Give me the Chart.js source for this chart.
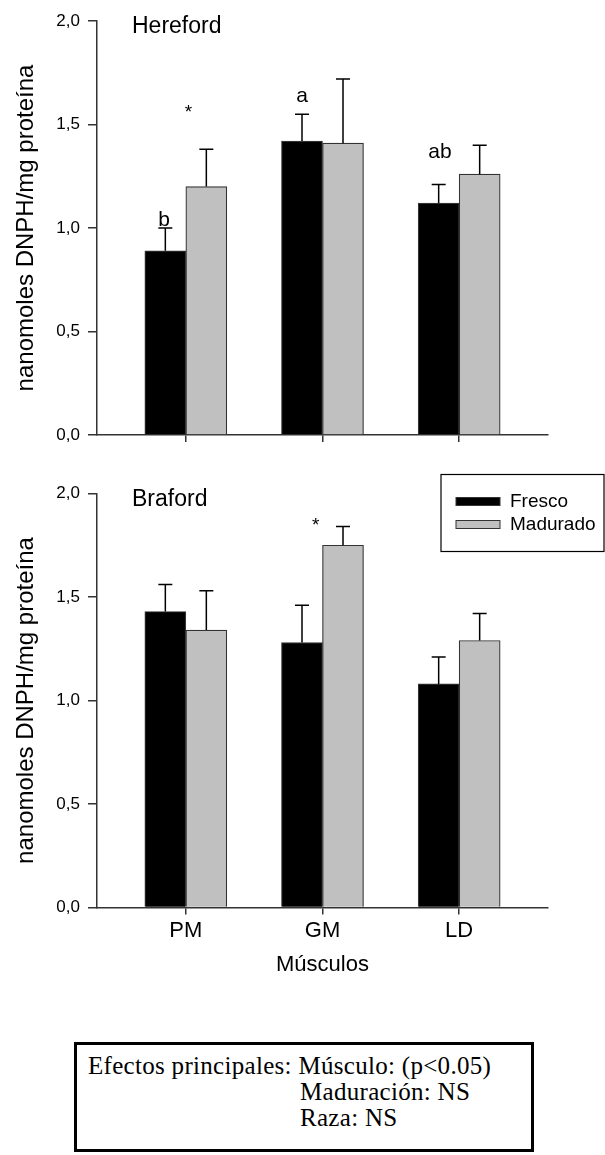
<!DOCTYPE html>
<html>
<head>
<meta charset="utf-8">
<script src="https://cdn.jsdelivr.net/npm/chart.js@4.4.0/dist/chart.umd.min.js"></script>
<style>
  body { margin: 0; background: #fff; width: 605px; height: 1155px; position: relative; overflow: hidden; font-family: "Liberation Sans", Arial, sans-serif; }
  #topWrap { position: absolute; left: 0; top: 0; width: 605px; height: 455px; }
  #bottomWrap { position: absolute; left: 0; top: 455px; width: 605px; height: 545px; }
  #effects {
    position: absolute; left: 74px; top: 1042px; width: 460px; height: 110px;
    border: 3px solid #000; box-sizing: border-box;
    font-family: "Liberation Serif", "Times New Roman", serif; font-size: 25px; letter-spacing: 0.3px;
    line-height: 26px; color: #000; padding: 8px 0 0 11px;
  }
  #effects .sub { padding-left: 212px; }
</style>
</head>
<body>
<div id="topWrap"><canvas id="herefordChart"></canvas></div>
<div id="bottomWrap"><canvas id="brafordChart"></canvas></div>
<div id="effects">
  <div>Efectos principales: Músculo: (p&lt;0.05)</div>
  <div class="sub">Maduración: NS</div>
  <div class="sub">Raza: NS</div>
</div>

<script>
// ------------------------------
// DATA
// ------------------------------
const muscles = ["PM", "GM", "LD"];
const seriesNames = ["Fresco", "Madurado"];
const yTicks = [0, 0.5, 1.0, 1.5, 2.0];

const herefordFresco = [0.89, 1.42, 1.12];
const herefordFrescoErr = [0.11, 0.13, 0.09];
const herefordMadurado = [1.20, 1.41, 1.26];
const herefordMaduradoErr = [0.18, 0.31, 0.14];

const brafordFresco = [1.43, 1.28, 1.08];
const brafordFrescoErr = [0.13, 0.18, 0.13];
const brafordMadurado = [1.34, 1.75, 1.29];
const brafordMaduradoErr = [0.19, 0.09, 0.13];

const barColors = ["#000000", "#c0c0c0"];
const axisColor = "#333333";
const sans = '"Liberation Sans", Arial, sans-serif';

// ------------------------------
// PLUGINS
// ------------------------------
// upward error bars with a cap
const errorBars = {
  id: "errorBars",
  afterDatasetsDraw(chart) {
    const { ctx } = chart;
    const yScale = chart.scales.y;
    chart.data.datasets.forEach((ds, di) => {
      const meta = chart.getDatasetMeta(di);
      meta.data.forEach((bar, i) => {
        const top = yScale.getPixelForValue(ds.data[i].y + ds.err[i]);
        ctx.save();
        ctx.strokeStyle = "#000";
        ctx.lineWidth = 1.5;
        ctx.beginPath();
        ctx.moveTo(bar.x, bar.y);
        ctx.lineTo(bar.x, top);
        ctx.moveTo(bar.x - 7, top);
        ctx.lineTo(bar.x + 7, top);
        ctx.stroke();
        ctx.restore();
      });
    });
  }
};

// significance letters and panel name
const panelText = {
  id: "panelText",
  afterDraw(chart, args, opts) {
    const { ctx, chartArea } = chart;
    const xs = chart.scales.x, ys = chart.scales.y;
    ctx.save();
    ctx.fillStyle = "#000";
    ctx.textBaseline = "middle";
    ctx.textAlign = "left";
    ctx.font = "23px " + sans;
    ctx.fillText(opts.name, chartArea.left + 35, chartArea.top + 6);

    ctx.textAlign = "center";
    ctx.textBaseline = "alphabetic";
    (opts.marks || []).forEach(m => {
      ctx.font = (m.text === "*" ? "19px " : "21px ") + sans;
      ctx.fillText(m.text, xs.getPixelForValue(m.x), ys.getPixelForValue(m.y));
    });
    ctx.restore();
  }
};

// boxed legend drawn inside the lower panel
const boxLegend = {
  id: "boxLegend",
  afterDraw(chart, args, opts) {
    if (!opts.show) return;
    const { ctx, chartArea } = chart;
    const left = chartArea.left + 344, top = chartArea.top - 19;
    ctx.save();
    ctx.strokeStyle = "#000";
    ctx.lineWidth = 1.2;
    ctx.strokeRect(left, top, 163, 77);
    ctx.font = "19px " + sans;
    ctx.textBaseline = "middle";
    ctx.textAlign = "left";
    chart.data.datasets.forEach((ds, i) => {
      const y = top + 27 + i * 23;
      ctx.fillStyle = ds.backgroundColor;
      ctx.fillRect(left + 15, y - 4, 44, 8);
      ctx.strokeStyle = "#333";
      ctx.lineWidth = 1;
      ctx.strokeRect(left + 15, y - 4, 44, 8);
      ctx.fillStyle = "#000";
      ctx.fillText(ds.label, left + 69, y);
    });
    ctx.restore();
  }
};

// ------------------------------
// BUILD ONE PANEL
// ------------------------------
function makeDataset(label, values, errs, color) {
  return {
    label: label,
    data: values.map((v, i) => ({ x: i, y: v })),
    err: errs,
    backgroundColor: color,
    borderColor: "#333",
    borderWidth: 1.2,
    barThickness: 41,
    grouped: true
  };
}

function makePanel(canvasId, name, fresco, frescoErr, madurado, maduradoErr, marks, isBottom) {
  return new Chart(document.getElementById(canvasId), {
    type: "bar",
    data: {
      datasets: [
        makeDataset(seriesNames[0], fresco, frescoErr, barColors[0]),
        makeDataset(seriesNames[1], madurado, maduradoErr, barColors[1])
      ]
    },
    options: {
      responsive: true,
      maintainAspectRatio: false,
      animation: false,
      layout: { padding: { top: isBottom ? 38.5 : 21, right: 57, left: 0, bottom: 0 } },
      plugins: {
        legend: { display: false },
        tooltip: { enabled: false },
        panelText: { name: name, marks: marks },
        boxLegend: { show: isBottom }
      },
      scales: {
        x: {
          type: "linear",
          offset: false,
          min: -0.65,
          max: 2.65,
          afterBuildTicks: s => { s.ticks = muscles.map((m, i) => ({ value: i })); },
          ticks: {
            display: isBottom,
            callback: v => muscles[v],
            color: "#000",
            font: { size: 22, family: sans },
            padding: 3,
            maxRotation: 0
          },
          grid: { offset: false, drawOnChartArea: false, tickLength: 7, color: axisColor, lineWidth: 1.5 },
          border: { color: axisColor, width: 1.5 },
          title: {
            display: isBottom,
            text: "Músculos",
            color: "#000",
            font: { size: 22, family: sans },
            padding: { top: 0, bottom: 22 }
          },
          afterFit: s => { s.height = isBottom ? 92.5 : 20; }
        },
        y: {
          min: 0,
          max: 2,
          afterBuildTicks: s => { s.ticks = yTicks.map(v => ({ value: v })); },
          ticks: {
            callback: v => v.toFixed(1).replace(".", ","),
            color: "#000",
            font: { size: 17, family: sans },
            padding: 8
          },
          grid: { drawOnChartArea: false, tickLength: 9, color: axisColor, lineWidth: 1.5 },
          border: { color: axisColor, width: 1.5 },
          title: {
            display: true,
            text: "nanomoles DNPH/mg proteína",
            color: "#000",
            font: { size: 24, family: sans },
            padding: { top: 12, bottom: 0 }
          },
          afterFit: s => { s.width = 97; }
        }
      }
    },
    plugins: [errorBars, panelText, boxLegend]
  });
}

// ------------------------------
// INIT
// ------------------------------
makePanel("herefordChart", "Hereford",
  herefordFresco, herefordFrescoErr, herefordMadurado, herefordMaduradoErr,
  [
    { text: "b", x: -0.16, y: 1.01 },
    { text: "*", x: 0.02, y: 1.53 },
    { text: "a", x: 0.85, y: 1.61 },
    { text: "ab", x: 1.86, y: 1.34 }
  ], false);

makePanel("brafordChart", "Braford",
  brafordFresco, brafordFrescoErr, brafordMadurado, brafordMaduradoErr,
  [
    { text: "*", x: 0.95, y: 1.82 }
  ], true);
</script>
</body>
</html>
